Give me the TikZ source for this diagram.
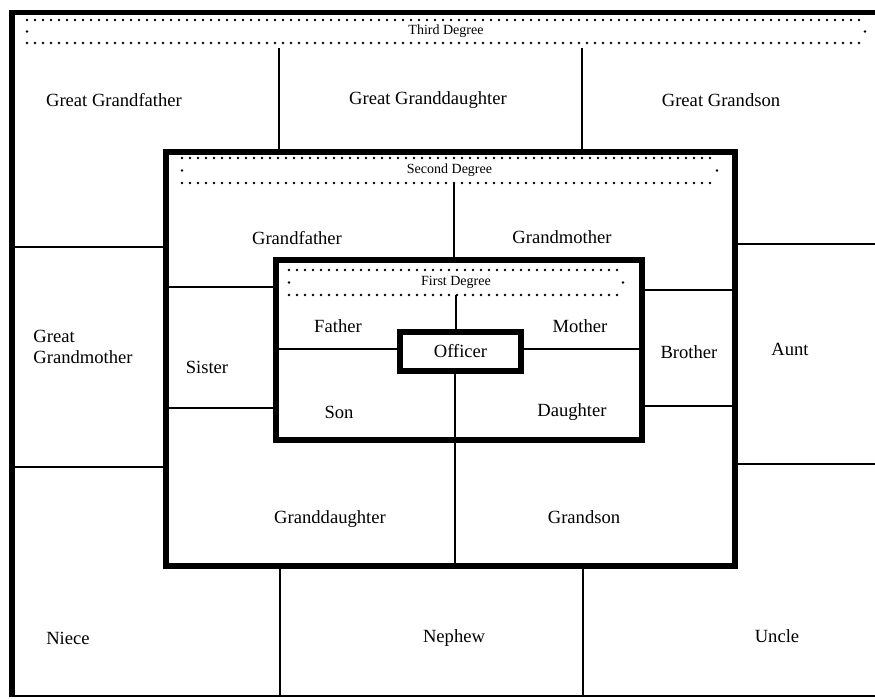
\documentclass[tikz,border=0pt]{standalone}
\usepackage{fontspec}
\setmainfont{Liberation Serif}
\tikzset{
  frame/.style={draw=black, line width=3pt},
  divider/.style={draw=black, line width=0.75pt},
  dotrow/.style={draw=black, line width=1.4pt, dash pattern=on 0pt off 4pt, line cap=round},
  kin/.style={font=\fontsize{9.3}{10.5}\selectfont, inner sep=0pt},
  degree/.style={font=\fontsize{7}{8}\selectfont, inner sep=0pt},
}
% dotted band with its title: name, x1, y1, x2, y2, text
\newcommand{\Dband}[6]{%
    \draw[dotrow] (#2,#3) -- (#4,#3);
    \draw[dotrow] (#2,#5) -- (#4,#5);
    \fill (#2,{(#3+#5)/2}) circle (0.7pt);
    \fill (#4,{(#3+#5)/2}) circle (0.7pt);
    \node[degree] (#1) at ({(#2+#4)/2},{(#3+#5)/2}) {#6};
  }

\begin{document}
\begin{tikzpicture}[x=0.5pt,y=-0.5pt]
  \useasboundingbox (0,0) rectangle (875,698);

  % ------------------------------------------------
  % outer frame (third degree)
  % ------------------------------------------------
  \draw[line width=2.5pt] (9,12) -- (875,12);
  \draw[line width=3.2pt] (12,11) -- (12,697);
  \draw[line width=1pt] (12,696) -- (875,696);
  \Dband{third}{27}{20}{865}{43}{Third Degree}

  % dividers of the outer ring
  \draw[divider] (279,48) -- (279,152);
  \draw[divider] (582,48) -- (582,152);
  \draw[divider] (280,566) -- (280,696);
  \draw[divider] (583,566) -- (583,696);
  \draw[divider] (12,247) -- (166,247);
  \draw[divider] (12,467) -- (166,467);
  \draw[divider] (735,244) -- (875,244);
  \draw[divider] (735,464) -- (875,464);

  % ------------------------------------------------
  % second degree
  % ------------------------------------------------
  \draw[frame] (166,152) rectangle (735,566);
  \Dband{second}{182}{158}{717}{183}{Second Degree}
  \draw[divider] (454,183) -- (454,260);
  \draw[divider] (455,440) -- (455,566);
  \draw[divider] (166,287) -- (276,287);
  \draw[divider] (166,408) -- (276,408);
  \draw[divider] (642,290) -- (735,290);
  \draw[divider] (642,406) -- (735,406);

  % ------------------------------------------------
  % first degree
  % ------------------------------------------------
  \draw[frame] (276,260) rectangle (642,440);
  \Dband{first}{289}{270}{623}{295}{First Degree}
  \node[kin, frame, minimum width=60.5pt, minimum height=19.5pt, outer sep=0pt]
    (officer) at (460.5,351.5) {Officer};
  \draw[divider] (first.center |- 0,295) -- (first.center |- officer.north);
  \draw[divider] (455,440) -- (455,371);
  \draw[divider] (276,349) -- (officer.west |- 0,349);
  \draw[divider] (officer.east |- 0,349) -- (642,349);

  % ------------------------------------------------
  % labels
  % ------------------------------------------------
  \node[kin] (ggfather) at (114,100) {Great Grandfather};
  \node[kin] (ggdaughter) at (428,100) {Great Granddaughter};
  \node[kin] (ggson) at (721,100) {Great Grandson};
  \node[kin, align=left, anchor=west] (ggmother) at (33,347) {Great\\Grandmother};
  \node[kin] (aunt) at (790,349) {Aunt};
  \node[kin] (niece) at (68,638) {Niece};
  \node[kin] (nephew) at (454,638) {Nephew};
  \node[kin] (uncle) at (777,636) {Uncle};

  \node[kin] (gfather) at (297,238) {Grandfather};
  \node[kin] (gmother) at (562,237) {Grandmother};
  \node[kin] (sister) at (207,367) {Sister};
  \node[kin] (brother) at (689,352) {Brother};
  \node[kin] (gdaughter) at (330,519) {Granddaughter};
  \node[kin] (gson) at (584,517) {Grandson};

  \node[kin] (father) at (338,326) {Father};
  \node[kin] (mother) at (580,326) {Mother};
  \node[kin] (son) at (339,412) {Son};
  \node[kin] (daughter) at (572,412) {Daughter};
\end{tikzpicture}
\end{document}
